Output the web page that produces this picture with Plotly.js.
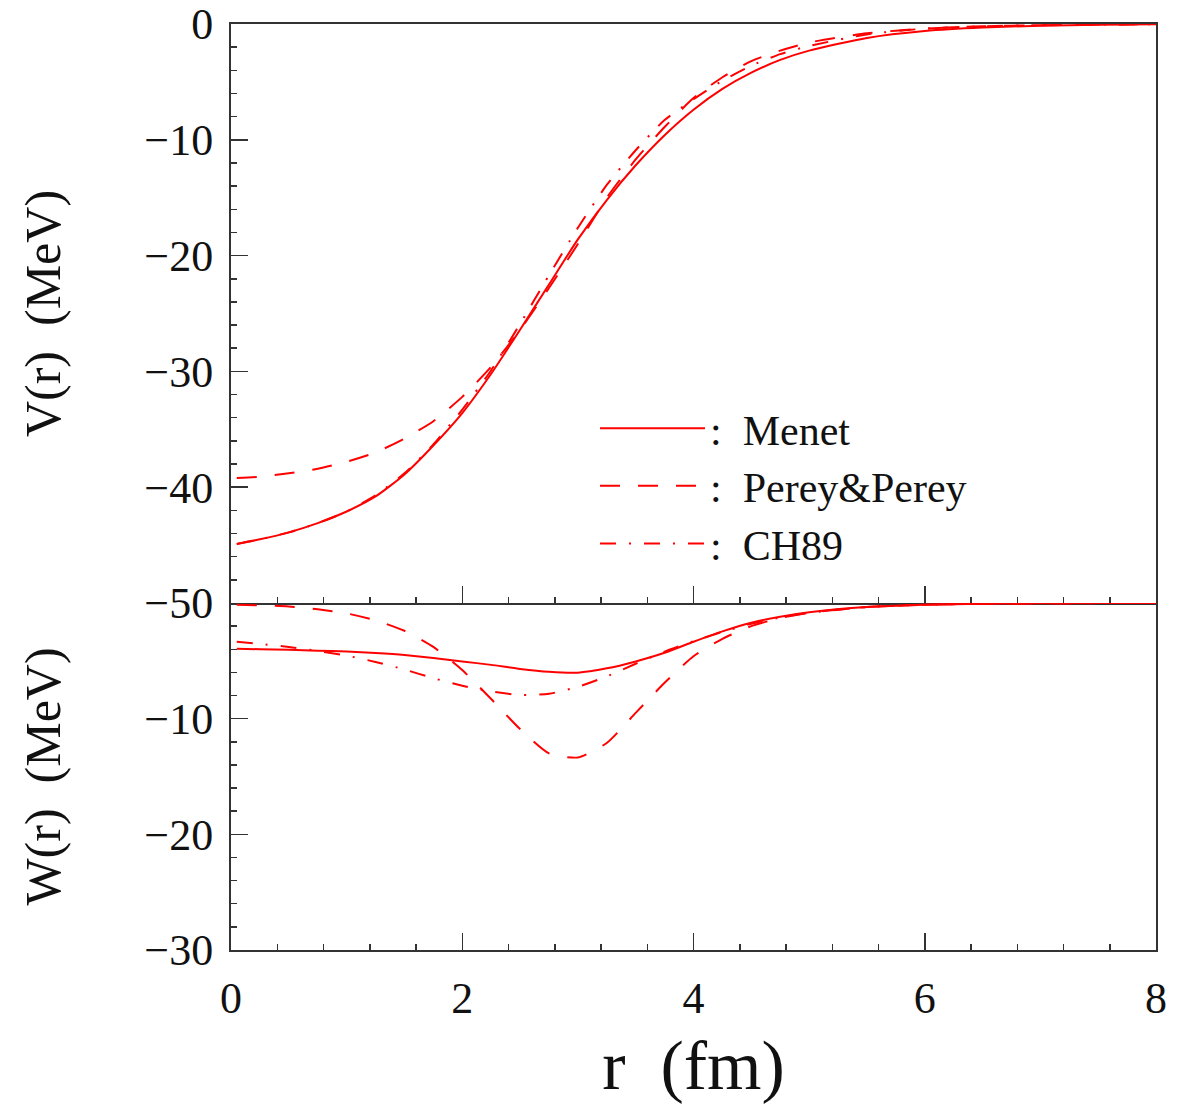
<!DOCTYPE html>
<html><head><meta charset="utf-8">
<script src="https://cdn.plot.ly/plotly-3.0.1.min.js"></script>
<style>html,body{margin:0;padding:0;background:#fff}</style>
</head><body><div id="chart" style="width:1177px;height:1105px"></div>
<script>
// radius grid (fm)
const r = [0.05,0.25,0.5,0.75,1.0,1.25,1.5,1.75,2.0,2.25,2.5,2.75,3.0,3.25,3.5,3.75,4.0,4.25,4.5,4.75,5.0,5.5,6.0,6.5,7.0,7.5,8.0];

// real part V(r) (MeV)
const vMenet = [-44.9,-44.5,-43.9,-43.1,-42.1,-40.8,-38.9,-36.4,-33.6,-30.2,-26.4,-22.5,-18.6,-15.2,-12.2,-9.6,-7.4,-5.6,-4.2,-3.1,-2.3,-1.2,-0.6,-0.3,-0.15,-0.07,-0.03];
const vPerey = [-39.2,-39.1,-38.8,-38.4,-37.8,-37.0,-35.8,-34.3,-32.2,-29.6,-26.4,-22.8,-19.0,-15.0,-11.7,-8.9,-6.4,-4.6,-3.2,-2.3,-1.6,-0.8,-0.4,-0.2,-0.1,-0.05,-0.02];
const vCH89 = [-44.9,-44.5,-43.9,-43.1,-42.1,-40.7,-38.8,-36.3,-33.3,-29.9,-25.9,-21.7,-17.6,-13.9,-10.9,-8.3,-6.5,-4.9,-3.6,-2.6,-1.9,-0.9,-0.4,-0.2,-0.1,-0.05,-0.02];

// imaginary part W(r) (MeV)
const wMenet = [-3.95,-4.0,-4.05,-4.12,-4.2,-4.33,-4.5,-4.75,-5.05,-5.35,-5.7,-5.95,-6.02,-5.65,-5.05,-4.3,-3.35,-2.45,-1.7,-1.18,-0.8,-0.35,-0.15,-0.06,-0.03,-0.01,0];
const wPerey = [-0.15,-0.2,-0.3,-0.55,-0.9,-1.5,-2.4,-3.8,-5.8,-8.3,-10.9,-13.0,-13.35,-12.1,-9.5,-6.9,-4.6,-3.1,-2.0,-1.3,-0.85,-0.35,-0.15,-0.06,-0.03,-0.01,0];
const wCH89 = [-3.35,-3.55,-3.8,-4.15,-4.55,-5.1,-5.75,-6.5,-7.15,-7.65,-7.95,-7.85,-7.25,-6.35,-5.25,-4.2,-3.3,-2.5,-1.8,-1.25,-0.85,-0.35,-0.15,-0.06,-0.03,-0.01,0];

const NB = '\u00a0';
const names = [':' + NB + NB + 'Menet', ':' + NB + NB + 'Perey&Perey', ':' + NB + NB + 'CH89'];
const dashes = ['solid', '20px,18px', '16px,13px,2px,13px'];
const vSeries = [vMenet, vPerey, vCH89];
const wSeries = [wMenet, wPerey, wCH89];

const RED = '#ff0000';
const FONT = 'Liberation Serif, Times New Roman, serif';
const traces = [];
vSeries.forEach((v, i) => traces.push({
  x: r, y: v, xaxis: 'x', yaxis: 'y', type: 'scatter', mode: 'lines',
  name: names[i], line: {color: RED, width: 2, dash: dashes[i], shape: 'spline', smoothing: 0.6},
  showlegend: true, hoverinfo: 'skip'
}));
wSeries.forEach((w, i) => traces.push({
  x: r, y: w, xaxis: 'x2', yaxis: 'y2', type: 'scatter', mode: 'lines',
  name: names[i], line: {color: RED, width: 2, dash: dashes[i], shape: 'spline', smoothing: 0.6},
  showlegend: false, hoverinfo: 'skip'
}));

const split = 347 / 926;
const axCol = '#333';
const common = {
  showgrid: false, zeroline: false, showline: true, linecolor: axCol, linewidth: 2,
  mirror: true, ticks: 'inside', ticklen: 17, tickwidth: 1.5, tickcolor: axCol,
  ticklabeloverflow: 'allow',
  tickfont: {family: FONT, size: 44, color: '#111'}
};

const layout = {
  width: 1177, height: 1105,
  margin: {l: 231, r: 21, t: 24, b: 155},
  paper_bgcolor: '#fff', plot_bgcolor: '#fff',
  font: {family: FONT, color: '#111'},
  showlegend: true,
  legend: {
    x: 0.3935, y: 0.6, xanchor: 'left', yanchor: 'top',
    bgcolor: 'rgba(0,0,0,0)', borderwidth: 0,
    font: {family: FONT, size: 42, color: '#111'},
    itemwidth: 105
  },
  xaxis: Object.assign({}, common, {
    domain: [0, 1], anchor: 'y', range: [0, 8], dtick: 2, tick0: 0,
    showticklabels: false,
    minor: {dtick: 0.4, tick0: 0, ticklen: 6, ticks: 'inside', tickwidth: 1.5, tickcolor: axCol}
  }),
  yaxis: Object.assign({}, common, {
    domain: [split, 1], anchor: 'x', range: [-50, 0], dtick: 10, tick0: 0,
    ticklabelstandoff: 7,
    minor: {dtick: 2, tick0: 0, ticklen: 6, ticks: 'inside', tickwidth: 1.5, tickcolor: axCol},
    title: {text: 'V(r)  (MeV)', font: {family: FONT, size: 50, color: '#111'}, standoff: 68}
  }),
  xaxis2: Object.assign({}, common, {
    domain: [0, 1], anchor: 'y2', range: [0, 8], dtick: 2, tick0: 0,
    mirror: false,
    ticklabelstandoff: 8,
    minor: {dtick: 0.4, tick0: 0, ticklen: 6, ticks: 'inside', tickwidth: 1.5, tickcolor: axCol},
    title: {text: 'r  (fm)', font: {family: FONT, size: 70, color: '#111'}, standoff: 18}
  }),
  yaxis2: Object.assign({}, common, {
    domain: [0, split], anchor: 'x2', range: [-30, 0],
    tickmode: 'array', tickvals: [-10, -20, -30],
    ticklabelstandoff: 7,
    minor: {tickmode: 'linear', dtick: 2, tick0: 0, ticklen: 6, ticks: 'inside', tickwidth: 1.5, tickcolor: axCol},
    title: {text: 'W(r)  (MeV)', font: {family: FONT, size: 50, color: '#111'}, standoff: 68}
  })
};

Plotly.newPlot('chart', traces, layout, {displayModeBar: false, staticPlot: true});
</script>
</body></html>
